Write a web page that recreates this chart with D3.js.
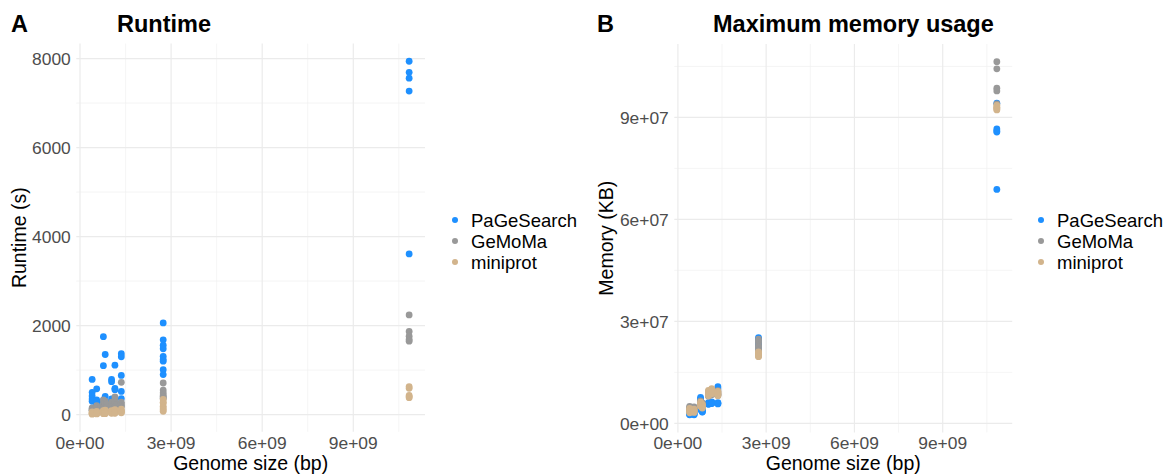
<!DOCTYPE html>
<html>
<head>
<meta charset="utf-8">
<script src="https://cdn.jsdelivr.net/npm/d3@7"></script>
<style>
  body { margin: 0; background: #fff; }
  svg text { font-family: "Liberation Sans", Arial, sans-serif; }
</style>
</head>
<body>
<div id="chart"></div>
<script>
// genome sizes (bp), one entry per genome group
var genomeSize = [0.40e9, 0.55e9, 0.77e9, 0.83e9, 1.04e9, 1.15e9, 1.36e9, 2.74e9, 10.84e9];

var tools = ["PaGeSearch", "GeMoMa", "miniprot"];
var toolColors = ["#1E90FF", "#999999", "#D2B48C"];

// runtime (s), per genome
var runtimePaGeSearch = [
  [790, 500, 420, 350, 300],
  [580, 330, 280, 250, 230],
  [1750, 1100, 320, 290, 260],
  [1350, 410, 300, 280, 250],
  [790, 740, 350, 300, 260],
  [1110, 590, 560, 350, 300],
  [1370, 1300, 880, 520, 360],
  [2060, 1680, 1560, 1480, 1310, 1240, 1200, 1010, 900],
  [7940, 7690, 7560, 7270, 3610]
];
var runtimeGeMoMa = [
  [150, 130, 110, 100, 90],
  [200, 170, 150, 120, 100],
  [330, 250, 200, 170, 150],
  [300, 260, 220, 180, 150],
  [280, 240, 200, 170, 140],
  [400, 330, 280, 220, 180],
  [725, 280, 240, 200, 180],
  [710, 550, 490, 440, 410, 380, 360],
  [2240, 1870, 1760, 1690, 1650]
];
var runtimeMiniprot = [
  [60, 40, 30, 20, 10],
  [70, 50, 30, 20, 15],
  [90, 60, 40, 30, 20],
  [100, 70, 50, 30, 20],
  [90, 70, 50, 40, 30],
  [110, 80, 60, 40, 30],
  [120, 90, 70, 50, 40],
  [340, 280, 260, 190, 150, 110, 75],
  [630, 590, 430, 400, 380]
];

// maximum memory (KB), per genome
var memoryPaGeSearch = [
  [3.6e6, 3.2e6, 2.9e6, 2.6e6, 2.5e6],
  [3.4e6, 3.1e6, 2.8e6, 2.6e6, 2.5e6],
  [7.6e6, 7.2e6, 6.8e6, 4.4e6, 4.0e6],
  [4.2e6, 3.9e6, 3.6e6, 3.4e6, 3.3e6],
  [6.1e6, 5.9e6, 5.8e6, 5.7e6, 5.6e6],
  [6.3e6, 6.1e6, 6.0e6, 5.9e6, 5.8e6],
  [1.08e7, 1.02e7, 6.1e6, 5.9e6, 5.7e6],
  [2.52e7, 2.48e7, 2.42e7, 2.35e7, 2.3e7, 2.2e7, 2.1e7, 2.05e7, 2.0e7],
  [9.42e7, 8.66e7, 8.6e7, 8.57e7, 6.88e7]
];
var memoryGeMoMa = [
  [5.0e6, 4.7e6, 4.4e6, 4.2e6, 4.0e6],
  [4.8e6, 4.5e6, 4.2e6, 4.0e6, 3.8e6],
  [6.6e6, 6.2e6, 5.9e6, 5.6e6, 5.3e6],
  [6.0e6, 5.7e6, 5.4e6, 5.1e6, 4.8e6],
  [9.3e6, 9.0e6, 8.6e6, 8.3e6, 8.0e6],
  [9.6e6, 9.3e6, 9.0e6, 8.7e6, 8.4e6],
  [9.6e6, 9.2e6, 8.8e6, 8.5e6, 8.2e6],
  [2.48e7, 2.42e7, 2.38e7, 2.3e7, 2.25e7, 2.2e7, 2.15e7],
  [1.064e8, 1.043e8, 9.86e7, 9.78e7, 9.4e7]
];
var memoryMiniprot = [
  [4.4e6, 3.9e6, 3.6e6, 3.3e6, 3.1e6],
  [4.2e6, 3.9e6, 3.6e6, 3.4e6, 3.2e6],
  [6.2e6, 5.8e6, 5.5e6, 5.2e6, 5.0e6],
  [5.6e6, 5.3e6, 5.0e6, 4.7e6, 4.5e6],
  [9.7e6, 9.2e6, 8.8e6, 8.4e6, 8.1e6],
  [1.02e7, 9.8e6, 9.4e6, 9.0e6, 8.7e6],
  [9.4e6, 9.0e6, 8.7e6, 8.4e6, 8.1e6],
  [2.1e7, 2.08e7, 2.05e7, 2.02e7, 2.0e7, 1.98e7, 1.96e7],
  [9.35e7, 9.3e7, 9.28e7, 9.25e7, 9.22e7]
];

var xTicks = [0, 3e9, 6e9, 9e9];
var runtimeTicks = [0, 2000, 4000, 6000, 8000];
var memoryTicks = [0, 3e7, 6e7, 9e7];

function flatten(series) {
  var pts = [];
  series.forEach(function(perGenome, t){
    perGenome.forEach(function(vals, g){
      vals.forEach(function(v){ pts.push({x: genomeSize[g], y: v, tool: t}); });
    });
  });
  return pts;
}

// ggplot-style 5% expansion
function expand(ext) {
  var pad = (ext[1] - ext[0]) * 0.05;
  return [ext[0] - pad, ext[1] + pad];
}

function sciFmt(v) {
  if (v === 0) return "0e+00";
  var e = Math.floor(Math.log10(v));
  var m = Math.round(v / Math.pow(10, e));
  return m + "e+" + (e < 10 ? "0" + e : e);
}

var svg = d3.select("#chart").append("svg")
  .attr("width", 1170)
  .attr("height", 474);

function panel(opt) {
  var pts = flatten(opt.series);
  var x = d3.scaleLinear()
    .domain(expand(d3.extent(pts, function(d){ return d.x; })))
    .range([opt.left, opt.right]);
  var y = d3.scaleLinear()
    .domain(expand(d3.extent(pts, function(d){ return d.y; })))
    .range([opt.bottom, opt.top]);

  var g = svg.append("g");

  // minor grid
  var xMinor = opt.xTicks.map(function(t){ return t + (opt.xTicks[1] - opt.xTicks[0]) / 2; })
    .filter(function(v){ return v < x.domain()[1]; });
  var yStep = opt.yTicks[1] - opt.yTicks[0];
  var yMinor = opt.yTicks.map(function(t){ return t + yStep / 2; })
    .filter(function(v){ return v < y.domain()[1]; });

  g.selectAll(".xminor").data(xMinor).enter().append("line")
    .attr("x1", x).attr("x2", x).attr("y1", opt.top).attr("y2", opt.bottom)
    .attr("stroke", "#f0f0f0").attr("stroke-width", 0.7);
  g.selectAll(".yminor").data(yMinor).enter().append("line")
    .attr("y1", y).attr("y2", y).attr("x1", opt.left).attr("x2", opt.right)
    .attr("stroke", "#f0f0f0").attr("stroke-width", 0.7);

  // major grid
  g.selectAll(".xmajor").data(opt.xTicks).enter().append("line")
    .attr("x1", x).attr("x2", x).attr("y1", opt.top).attr("y2", opt.bottom)
    .attr("stroke", "#ebebeb").attr("stroke-width", 1.2);
  g.selectAll(".ymajor").data(opt.yTicks).enter().append("line")
    .attr("y1", y).attr("y2", y).attr("x1", opt.left).attr("x2", opt.right)
    .attr("stroke", "#ebebeb").attr("stroke-width", 1.2);

  // tick labels
  g.selectAll(".xlab").data(opt.xTicks).enter().append("text")
    .attr("x", x).attr("y", 449)
    .attr("text-anchor", "middle")
    .attr("font-size", "17.4px").attr("fill", "#4d4d4d")
    .text(sciFmt);
  g.selectAll(".ylab").data(opt.yTicks).enter().append("text")
    .attr("x", opt.left - 5.5).attr("y", y).attr("dy", "0.36em")
    .attr("text-anchor", "end")
    .attr("font-size", "17.4px").attr("fill", "#4d4d4d")
    .text(opt.yFmt);

  // points: blue first, beige on top
  g.selectAll(".pt").data(pts).enter().append("circle")
    .attr("cx", function(d){ return x(d.x); })
    .attr("cy", function(d){ return y(d.y); })
    .attr("r", 3.4)
    .attr("fill", function(d){ return toolColors[d.tool]; });

  // axis titles
  g.append("text")
    .attr("x", (opt.left + opt.right) / 2).attr("y", 470)
    .attr("text-anchor", "middle").attr("font-size", "19.5px")
    .text("Genome size (bp)");
  g.append("text")
    .attr("transform", "translate(" + opt.yTitleX + "," + ((opt.top + opt.bottom) / 2) + ") rotate(-90)")
    .attr("text-anchor", "middle").attr("font-size", "19.5px")
    .text(opt.yTitle);

  // titles
  g.append("text")
    .attr("x", opt.tagX).attr("y", 32)
    .attr("font-size", "23.5px").attr("font-weight", "bold")
    .text(opt.tag);
  g.append("text")
    .attr("x", opt.titleX).attr("y", 32)
    .attr("font-size", "23.5px").attr("font-weight", "bold")
    .text(opt.title);

  // legend
  var leg = g.selectAll(".leg").data(tools).enter().append("g")
    .attr("transform", function(d, i){ return "translate(" + opt.legX + "," + (220 + i * 21) + ")"; });
  leg.append("circle").attr("r", 3).attr("fill", function(d, i){ return toolColors[i]; });
  leg.append("text").attr("x", 16).attr("dy", "0.36em")
    .attr("font-size", "18.5px").text(function(d){ return d; });
}

panel({
  series: [runtimePaGeSearch, runtimeGeMoMa, runtimeMiniprot],
  left: 76.3, right: 425, top: 43.6, bottom: 431.8,
  xTicks: xTicks, yTicks: runtimeTicks,
  yFmt: function(d){ return d; },
  yTitle: "Runtime (s)", yTitleX: 26,
  tag: "A", tagX: 11, title: "Runtime", titleX: 117,
  legX: 455
});

panel({
  series: [memoryPaGeSearch, memoryGeMoMa, memoryMiniprot],
  left: 674.3, right: 1012.2, top: 44, bottom: 432.5,
  xTicks: xTicks, yTicks: memoryTicks,
  yFmt: sciFmt,
  yTitle: "Memory (KB)", yTitleX: 613,
  tag: "B", tagX: 597, title: "Maximum memory usage", titleX: 713,
  legX: 1041
});
</script>
</body>
</html>
